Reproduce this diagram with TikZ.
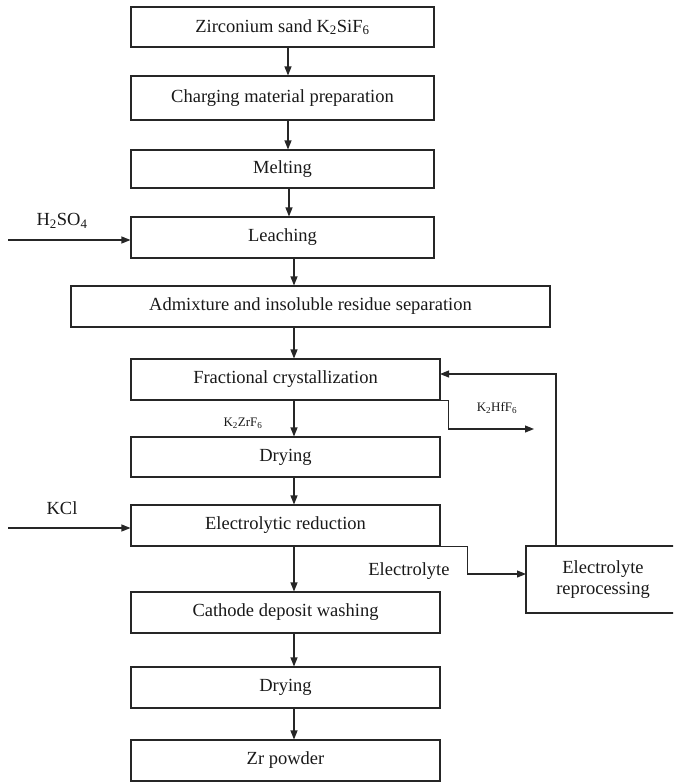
\documentclass[tikz,border=0pt]{standalone}
\usepackage{fontspec}
\setmainfont{Liberation Serif}
\usetikzlibrary{arrows.meta,calc}
\newcommand{\chemsub}[1]{\textsubscript{#1}}
\begin{document}
\begin{tikzpicture}[x=1pt,y=-1pt,
  line width=1.1pt,
  stage/.style={draw=black!85,rectangle,inner sep=0pt,minimum width=309pt,minimum height=41pt,
    font=\fontsize{18.5}{22}\selectfont,text=black!90},
  topstage/.style={stage,minimum width=303pt},
  lbl/.style={inner sep=0pt,font=\fontsize{18.5}{22}\selectfont,text=black!90},
  smalllbl/.style={inner sep=0pt,font=\fontsize{13}{15}\selectfont,text=black!90},
  arr/.style={draw=black!85,-{Triangle[length=9pt,width=7pt]}}]
\clip (0,0) rectangle (673,782);

% main column of process stages
\node[topstage,minimum height=40pt] (zs) at (282.5,27) {Zirconium sand K\chemsub{2}SiF\chemsub{6}};
\node[topstage,minimum height=44pt] (cm) at (282.5,98) {Charging material preparation};
\node[topstage,minimum height=38pt] (me) at (282.5,169) {Melting};
\node[topstage] (le) at (282.5,237.5) {Leaching};
\node[stage,minimum width=479pt] (ad) at (310.5,306.5) {Admixture and insoluble residue separation};
\node[stage] (fc) at (285.5,379.5) {Fractional crystallization};
\node[stage,minimum height=40pt] (d1) at (285.5,457) {Drying};
\node[stage] (er) at (285.5,525.5) {Electrolytic reduction};
\node[stage] (cw) at (285.5,612.5) {Cathode deposit washing};
\node[stage] (d2) at (285.5,687.5) {Drying};
\node[stage] (zp) at (285.5,760.5) {Zr powder};

% side stage, running past the right edge
\node[stage,minimum width=154pt,minimum height=67pt,align=center,
  font=\fontsize{18.5}{21}\selectfont] (rp) at (603,579.5) {Electrolyte\\reprocessing};

% main flow
\draw[arr] ([xshift=5.5]zs.south) -- ([xshift=5.5]cm.north);
\draw[arr] ([xshift=5.5]cm.south) -- ([xshift=5.5]me.north);
\draw[arr] ([xshift=6.5]me.south) -- ([xshift=6.5]le.north);
\draw[arr] ([xshift=11.5]le.south) -- ([xshift=11.5]le.south |- ad.north);
\draw[arr] ([xshift=8.5]fc.north |- ad.south) -- ([xshift=8.5]fc.north);
\draw[arr] ([xshift=8.5]fc.south) -- ([xshift=8.5]d1.north);
\draw[arr] ([xshift=8.5]d1.south) -- ([xshift=8.5]er.north);
\draw[arr] ([xshift=8.5]er.south) -- ([xshift=8.5]cw.north);
\draw[arr] ([xshift=8.5]cw.south) -- ([xshift=8.5]d2.north);
\draw[arr] ([xshift=8.5]d2.south) -- ([xshift=8.5]zp.north);

% feed streams
\coordinate (hs) at (8,240);
\draw[arr] (hs) -- (le.west |- hs);
\node[lbl] (hslbl) at (62,221) {H\chemsub{2}SO\chemsub{4}};
\coordinate (kc) at (8,528);
\draw[arr] (kc) -- (er.west |- kc);
\node[lbl] (kclbl) at (62,508) {KCl};

% by-product and recycle
\node[smalllbl] (zrf) at (243,423) {K\chemsub{2}ZrF\chemsub{6}};
\coordinate (hfend) at (534,429);
\draw[arr] (fc.south east) -- ++(8,0) |- (hfend);
\node[smalllbl] (hff) at (497,408) {K\chemsub{2}HfF\chemsub{6}};

\coordinate (elin) at (526,574);
\draw[arr] (er.south east) -- ++(27,0) |- (elin);
\node[lbl] (ellbl) at (409,571) {Electrolyte};

\coordinate (rcup) at (556,546);
\coordinate (rcin) at (440,374);
\draw[arr] (rcup) |- (rcin);
\end{tikzpicture}
\end{document}
